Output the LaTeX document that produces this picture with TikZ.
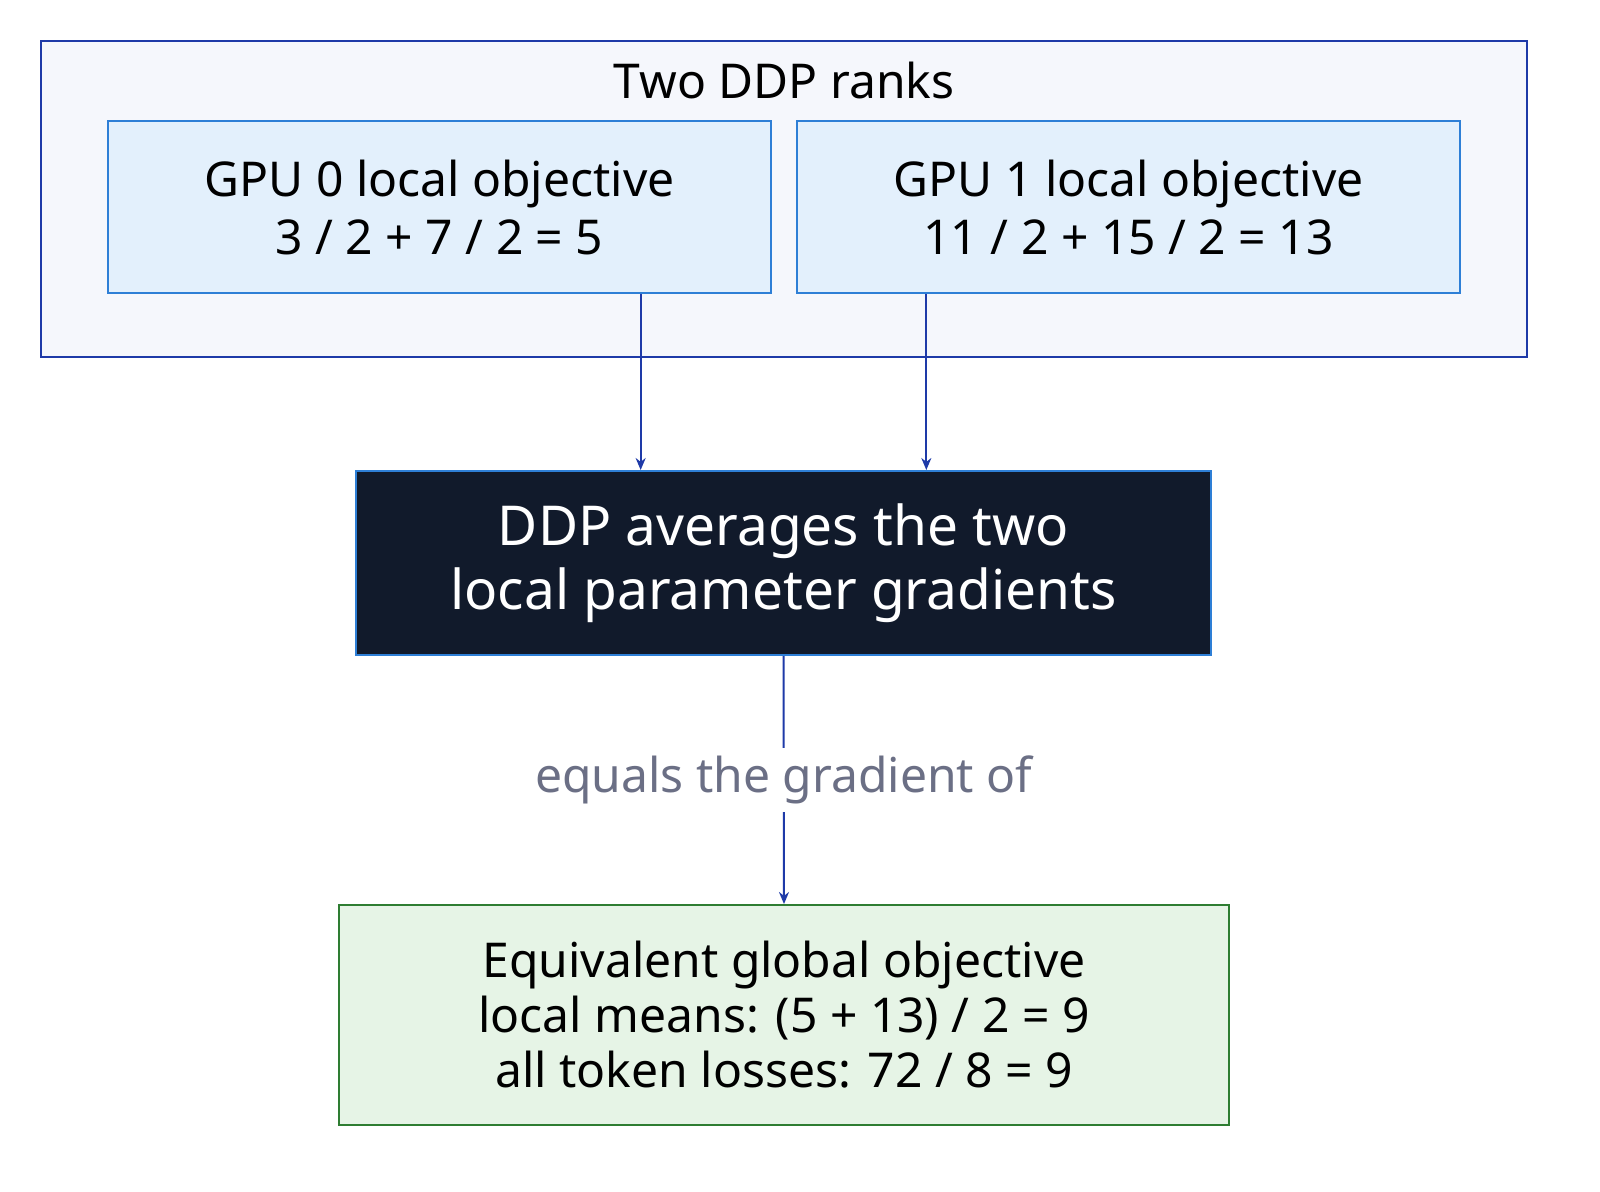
\documentclass[tikz,border=0pt]{standalone}
\usepackage{fontspec}
\setmainfont{Noto Sans}
\usetikzlibrary{positioning,calc,arrows.meta}
\definecolor{rankline}{HTML}{1E3AA8}
\definecolor{rankfill}{HTML}{F5F7FC}
\definecolor{gpuline}{HTML}{2E7FD6}
\definecolor{gpufill}{HTML}{E3F0FC}
\definecolor{ddpfill}{HTML}{111A2B}
\definecolor{eqline}{HTML}{2E7D32}
\definecolor{eqfill}{HTML}{E6F4E6}
\definecolor{labgray}{HTML}{6B6F85}
\begin{document}
\begin{tikzpicture}[x=0.5pt,y=-0.5pt,
  box/.style={draw, line width=1pt, align=center, inner sep=0pt},
  arr/.style={draw=rankline, line width=1pt, -{Stealth[length=6pt,width=5pt]}}]
\useasboundingbox (0,0) rectangle (1600,1191);
% outer frame
\node[box, draw=rankline, fill=rankfill, minimum width=743pt, minimum height=158pt] (ranks) at (784,199) {};
\node[font=\fontsize{24}{28}\selectfont] (title) at (784,80) {Two DDP ranks};
% two gpu boxes
\node[box, draw=gpuline, fill=gpufill, minimum width=331.5pt, minimum height=86pt,
  font=\fontsize{24}{29}\selectfont] (gpu0) at (439.5,207) {GPU 0 local objective\\3 / 2 + 7 / 2 = 5};
\node[box, draw=gpuline, fill=gpufill, minimum width=331.5pt, minimum height=86pt,
  font=\fontsize{24}{29}\selectfont] (gpu1) at (1128.5,207) {GPU 1 local objective\\11 / 2 + 15 / 2 = 13};
% averaging
\node[box, draw=gpuline, fill=ddpfill, text=white, minimum width=427.5pt, minimum height=92pt,
  font=\fontsize{27.5}{32}\selectfont] (ddp) at (783.5,563) {DDP averages the two\\local parameter gradients};
% result
\node[box, draw=eqline, fill=eqfill, minimum width=445pt, minimum height=110pt,
  font=\fontsize{24}{27.5}\selectfont] (global) at (784,1015) {Equivalent global objective\\local means: (5 + 13) / 2 = 9\\all token losses: 72 / 8 = 9};
% connectors
\coordinate (in0) at ($(ddp.north west)!1/3!(ddp.north east)$);
\coordinate (in1) at ($(ddp.north west)!2/3!(ddp.north east)$);
\draw[arr] (gpu0.south -| in0) -- (in0);
\draw[arr] (gpu1.south -| in1) -- (in1);
\draw[arr] (ddp.south) -- node[fill=white, text=labgray, inner sep=4pt,
  font=\fontsize{24}{28}\selectfont] {equals the gradient of} (global.north);
\end{tikzpicture}
\end{document}
